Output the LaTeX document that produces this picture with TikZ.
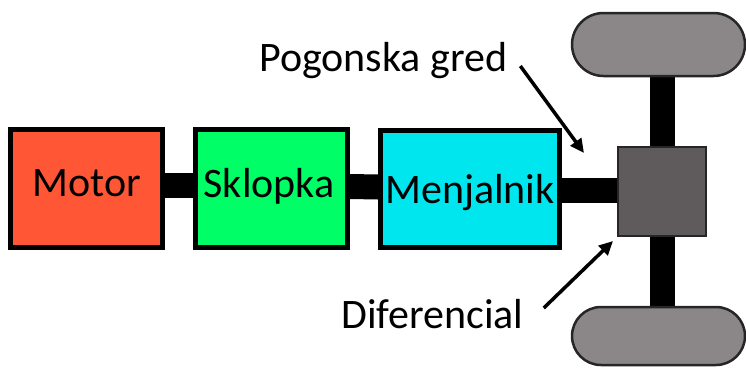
\documentclass[tikz,border=0pt]{standalone}
\usepackage{fontspec}
\setmainfont{Carlito}
\usetikzlibrary{arrows.meta,shapes.misc}
\definecolor{motorred}{HTML}{FF5735}
\definecolor{clutchgreen}{HTML}{00FF66}
\definecolor{gearcyan}{HTML}{00E6EE}
\definecolor{diffgrey}{HTML}{5F5A5C}
\definecolor{wheelgrey}{HTML}{8B8788}
\tikzset{
  unit/.style={draw=black, line width=5pt, inner sep=0pt},
  unitname/.style={font=\fontsize{42}{44}\selectfont, inner sep=0pt},
  shaft/.style={line width=25pt, black},
  wheel/.style={rounded rectangle, draw=black!85, line width=2.5pt, fill=wheelgrey, inner sep=0pt},
  label/.style={font=\fontsize{42}{44}\selectfont, inner sep=0pt},
  pointer/.style={line width=3.5pt, -{Triangle[length=14pt,width=13pt]}}
}
\begin{document}
\begin{tikzpicture}[x=1pt,y=-1pt]
  \useasboundingbox (0,0) rectangle (746,367);
  % wheels and axle
  \coordinate (axtop) at (662.5,70);
  \coordinate (axbot) at (662.5,312);
  \draw[shaft] (axtop) -- (axbot);
  \node[wheel, minimum width=173pt, minimum height=63pt] (wfront) at (658.5,44.5) {};
  \node[wheel, minimum width=173pt, minimum height=58pt] (wrear) at (658.5,336) {};
  % driveline units
  \node[unit, fill=motorred, minimum width=152pt, minimum height=118pt] (motor) at (86.5,188.5) {};
  \node[unit, fill=clutchgreen, minimum width=152pt, minimum height=118pt] (clutch) at (271.5,188.5) {};
  \node[unit, fill=gearcyan, minimum width=179pt, minimum height=117pt] (gearbox) at (470,189) {};
  \node[draw=black!85, line width=2pt, fill=diffgrey, minimum width=88pt, minimum height=89pt, inner sep=0pt] (diff) at (662,191.5) {};
  % shafts between units
  \draw[shaft] ([yshift=3pt]motor.east) -- ([yshift=3pt]clutch.west);
  \draw[shaft] ([yshift=2pt]clutch.east) -- ([yshift=2pt]gearbox.west);
  \draw[shaft] ([yshift=-1pt]gearbox.east) -- (diff.west |- 0,190);
  % unit names
  \node[unitname, anchor=base] (tmotor) at (87,196) {Motor};
  \node[unitname, anchor=base] (tclutch) at (269,197) {Sklopka};
  \node[unitname, anchor=base] (tgear) at (470,203) {Menjalnik};
  % callouts
  \node[label, anchor=base west] (lshaft) at (259,71) {Pogonska gred};
  \node[label, anchor=base west] (ldiff) at (341,328) {Diferencial};
  \coordinate (pshaft) at (584,153);
  \coordinate (pdiff) at (613,241);
  \draw[pointer] ([xshift=13pt,yshift=5pt]lshaft.base east) -- (pshaft);
  \draw[pointer] ([xshift=20pt,yshift=20pt]ldiff.base east) -- (pdiff);
\end{tikzpicture}
\end{document}
